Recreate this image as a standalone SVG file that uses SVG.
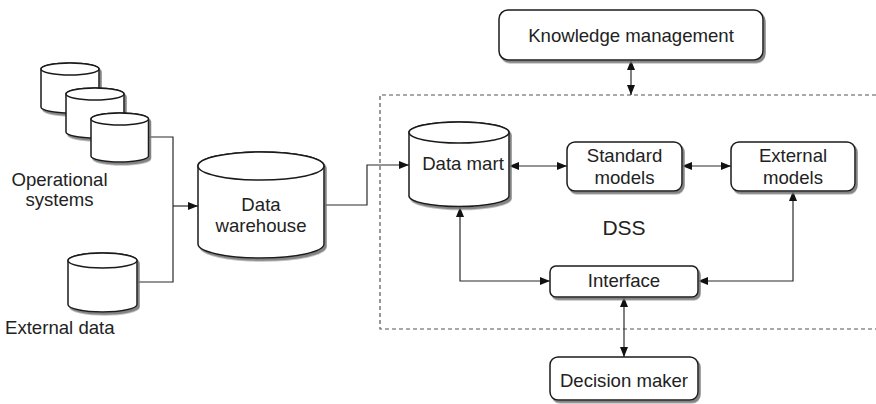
<svg xmlns="http://www.w3.org/2000/svg" width="876" height="404" viewBox="0 0 876 404">
<style>
.shape{fill:#fff;stroke:#1a1a1a;stroke-width:1.5;filter:url(#sh)}
.top{fill:#fff;stroke:#1a1a1a;stroke-width:1.5}
.t{font-family:"Liberation Sans",Arial,sans-serif;font-size:18.6px;fill:#222;text-anchor:middle}
.conn{fill:none;stroke:#2a2a2a;stroke-width:1.2}
.dash{fill:none;stroke:#555;stroke-width:1.2;stroke-dasharray:4 3}
</style>
<defs>
<filter id="sh" x="-10%" y="-10%" width="130%" height="130%">
<feDropShadow dx="2" dy="2.5" stdDeviation="0.7" flood-color="#777" flood-opacity="0.9"/>
</filter>
<marker id="ah" viewBox="0 0 10 8" refX="10" refY="4" markerWidth="10" markerHeight="8" markerUnits="userSpaceOnUse" orient="auto-start-reverse">
<path d="M0,0 L10,4 L0,8 Z" fill="#111"/>
</marker>
</defs>
<rect width="876" height="404" fill="#fff"/>

<g id="dss-boundary">
<path class="dash" d="M876,95 H380 V329 H876"/>
<text class="t" x="624" y="235" style="font-size:21px">DSS</text>
</g>

<g id="connectors">
<path class="conn" d="M148.5,137 H173 V282 H137"/>
<path class="conn" d="M173,206 H198" marker-end="url(#ah)"/>
<path class="conn" d="M324,205 H367 V165 H409" marker-end="url(#ah)"/>
<path class="conn" d="M509,166 H567" marker-start="url(#ah)" marker-end="url(#ah)"/>
<path class="conn" d="M682,166 H731" marker-start="url(#ah)" marker-end="url(#ah)"/>
<path class="conn" d="M460,207 V281 H550" marker-start="url(#ah)" marker-end="url(#ah)"/>
<path class="conn" d="M793,191 V281 H698" marker-start="url(#ah)" marker-end="url(#ah)"/>
<path class="conn" d="M631,60 V95" marker-start="url(#ah)" marker-end="url(#ah)"/>
<path class="conn" d="M624,297 V357" marker-start="url(#ah)" marker-end="url(#ah)"/>
</g>

<g id="operational-systems">
<path class="shape" d="M41,69 V107 A29,6 0 0 0 99,107 V69 A29,6 0 0 0 41,69 Z"/>
<ellipse class="top" cx="70" cy="69" rx="29" ry="6"/>
<path class="shape" d="M66,94 V132 A29,6 0 0 0 124,132 V94 A29,6 0 0 0 66,94 Z"/>
<ellipse class="top" cx="95" cy="94" rx="29" ry="6"/>
<path class="shape" d="M91,119 V156 A28.75,6 0 0 0 148.5,156 V119 A28.75,6 0 0 0 91,119 Z"/>
<ellipse class="top" cx="119.75" cy="119" rx="28.75" ry="6"/>
<text class="t" x="59.5" y="186">Operational</text>
<text class="t" x="59.5" y="206">systems</text>
</g>

<g id="external-data">
<path class="shape" d="M68,260.5 V304.5 A34.5,7.5 0 0 0 137,304.5 V260.5 A34.5,7.5 0 0 0 68,260.5 Z"/>
<ellipse class="top" cx="102.5" cy="260.5" rx="34.5" ry="7.5"/>
<text class="t" x="5" y="334" style="text-anchor:start">External data</text>
</g>

<g id="data-warehouse">
<path class="shape" d="M198,166 V244 A63,14 0 0 0 324,244 V166 A63,14 0 0 0 198,166 Z"/>
<ellipse class="top" cx="261" cy="166" rx="63" ry="14"/>
<text class="t" x="261" y="211">Data</text>
<text class="t" x="261" y="232">warehouse</text>
</g>

<g id="data-mart">
<path class="shape" d="M409,132.5 V196 A50,10.5 0 0 0 509,196 V132.5 A50,10.5 0 0 0 409,132.5 Z"/>
<ellipse class="top" cx="459" cy="132.5" rx="50" ry="10.5"/>
<text class="t" x="463" y="170">Data mart</text>
</g>

<g id="knowledge-management">
<rect class="shape" x="499" y="10" width="264" height="50" rx="9"/>
<text class="t" x="631" y="42">Knowledge management</text>
</g>

<g id="standard-models">
<rect class="shape" x="567" y="142" width="115" height="49" rx="8"/>
<text class="t" x="624.5" y="162">Standard</text>
<text class="t" x="624.5" y="184">models</text>
</g>

<g id="external-models">
<rect class="shape" x="731" y="142" width="124" height="49" rx="8"/>
<text class="t" x="793" y="162">External</text>
<text class="t" x="793" y="184">models</text>
</g>

<g id="interface">
<rect class="shape" x="550" y="266" width="148" height="31" rx="6"/>
<text class="t" x="624" y="287">Interface</text>
</g>

<g id="decision-maker">
<rect class="shape" x="550" y="357" width="148" height="43" rx="8"/>
<text class="t" x="624" y="387">Decision maker</text>
</g>
</svg>
